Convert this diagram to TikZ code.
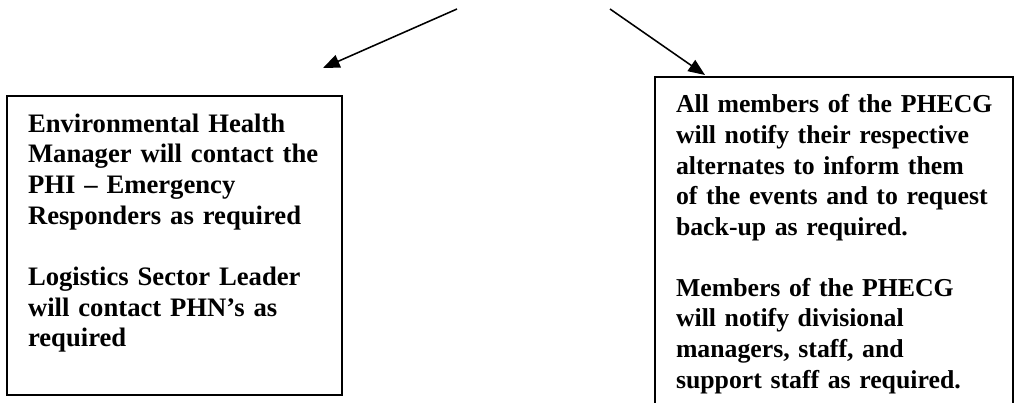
\documentclass[tikz,border=0pt]{standalone}
\usepackage{fontspec}
\setmainfont{Liberation Serif}
\usetikzlibrary{arrows.meta}
\tikzset{>={Triangle[length=7.5pt,width=6pt]}}

\begin{document}
\begin{tikzpicture}[x=0.45pt,y=-0.45pt,
    box/.style={draw,line width=0.9pt,anchor=north west,align=left,inner xsep=9.45pt,inner ysep=0pt,
      text height=16.2pt,font=\fontsize{12}{13.8}\selectfont\bfseries},
    link/.style={->,line width=0.7pt}]
  \useasboundingbox (0,0) rectangle (1021,403);
  % arrows coming down from above
  \coordinate (p) at (457,9);
  \coordinate (q) at (610,9);
  \coordinate (a) at (323,68);
  \coordinate (b) at (705,75);
  \draw[link] (p) -- (a);
  \draw[link] (q) -- (b);
  % left box
  \node[box,text width=131.8pt,text depth=118.4pt] (env) at (6,95)
    {Environmental Health\\ Manager will contact the\\ PHI -- Emergency\\ Responders as required\\[13.8pt]
     Logistics Sector Leader\\ will contact PHN’s as\\ required};
  % right box
  \node[box,font=\fontsize{11.6}{13.75}\selectfont\bfseries,text width=142.2pt,text depth=135pt] (phecg) at (654,76)
    {\mbox{All members of the PHECG}\\ will notify their respective\\ alternates to inform them\\ of the events and to request\\ back-up as required.\\[13.75pt]
     Members of the PHECG\\ will notify divisional\\ managers, staff, and\\ support staff as required.};
\end{tikzpicture}
\end{document}
